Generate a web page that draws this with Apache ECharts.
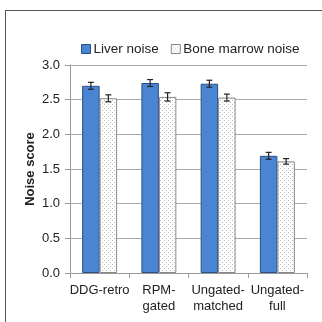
<!DOCTYPE html>
<html><head><meta charset="utf-8">
<script src="https://cdn.jsdelivr.net/npm/echarts@6/dist/echarts.min.js"></script>
<style>html,body{margin:0;padding:0;background:#fff}#c{width:322px;height:322px}</style>
</head><body><div id="c"></div>
<script>
const categories = ['DDG-retro', 'RPM-\ngated', 'Ungated-\nmatched', 'Ungated-\nfull'];
const liverNoise = [2.70, 2.74, 2.73, 1.69];
const liverErr = [0.05, 0.05, 0.05, 0.05];
const marrowNoise = [2.52, 2.54, 2.53, 1.61];
const marrowErr = [0.05, 0.06, 0.05, 0.04];
const yTicks = [0, 0.5, 1.0, 1.5, 2.0, 2.5, 3.0];

function dotPattern() {
  const c = document.createElement('canvas');
  c.width = 4; c.height = 4;
  const g = c.getContext('2d');
  g.fillStyle = '#ffffff'; g.fillRect(0, 0, 4, 4);
  g.fillStyle = '#b8b8b8';
  g.fillRect(0, 0, 1, 1);
  g.fillRect(2, 2, 1, 1);
  return c;
}
const pat = { image: dotPattern(), repeat: 'repeat' };
const catGap = 0.41;

function errSeries(vals, errs, side) {
  return {
    type: 'custom',
    z: 10,
    silent: true,
    data: vals.map((v, i) => [i, v, errs[i]]),
    renderItem: function (params, api) {
      const i = api.value(0), v = api.value(1), e = api.value(2);
      const band = api.size([1, 0])[0];
      const bw = band * (1 - catGap) / 2;
      const c = api.coord([i, v]);
      const x = c[0] + side * bw / 2;
      const hi = api.coord([i, v + e])[1];
      const lo = api.coord([i, v - e])[1];
      const cap = 3;
      const st = { stroke: '#222', lineWidth: 1.2 };
      return { type: 'group', children: [
        { type: 'line', shape: { x1: x, y1: hi, x2: x, y2: lo }, style: st },
        { type: 'line', shape: { x1: x - cap, y1: hi, x2: x + cap, y2: hi }, style: st },
        { type: 'line', shape: { x1: x - cap, y1: lo, x2: x + cap, y2: lo }, style: st }
      ]};
    }
  };
}

const chart = echarts.init(document.getElementById('c'), null, { renderer: 'canvas' });
chart.setOption({
  animation: false,
  textStyle: { fontFamily: 'Liberation Sans, Arial, sans-serif' },
  graphic: [
    { type: 'line', shape: { x1: 5.5, y1: 10, x2: 5.5, y2: 322 }, style: { stroke: '#555', lineWidth: 1 } },
    { type: 'line', shape: { x1: 5, y1: 10.5, x2: 322, y2: 10.5 }, style: { stroke: '#555', lineWidth: 1 } }
  ],
  legend: {
    top: 37, left: 76, icon: 'rect',
    itemWidth: 9, itemHeight: 9, itemGap: 12,
    textStyle: { fontSize: 13.5, color: '#222', padding: [0, 0, 0, -2] },
    data: [
      { name: 'Liver noise', itemStyle: { color: '#4a85d4', borderColor: '#2c4f80', borderWidth: 1 } },
      { name: 'Bone marrow noise', itemStyle: { color: pat, borderColor: '#888', borderWidth: 1 } }
    ]
  },
  grid: { left: 70, right: 15, top: 65, bottom: 49, containLabel: false },
  xAxis: {
    type: 'category', data: categories,
    axisLine: { lineStyle: { color: '#999' } },
    axisTick: { show: true, alignWithLabel: false, length: 5, lineStyle: { color: '#999' } },
    axisLabel: { fontSize: 13, color: '#222', lineHeight: 16, margin: 9, interval: 0 }
  },
  yAxis: {
    type: 'value', min: 0, max: 3, interval: 0.5,
    name: 'Noise score', nameLocation: 'middle', nameGap: 33, nameMoveOverlap: false,
    nameTextStyle: { fontSize: 13, fontWeight: 'bold', color: '#222' },
    axisLine: { show: true, lineStyle: { color: '#999' } },
    axisTick: { show: true, length: 5, lineStyle: { color: '#999' } },
    axisLabel: { fontSize: 13, color: '#222', margin: 10, formatter: v => yTicks.includes(v) ? v.toFixed(1) : '' },
    splitLine: { lineStyle: { color: '#aaa' } }
  },
  series: [
    { name: 'Liver noise', type: 'bar', data: liverNoise, barGap: '0%', barCategoryGap: (catGap * 100) + '%',
      itemStyle: { color: '#4a85d4', borderColor: '#2c4f80', borderWidth: 1 } },
    { name: 'Bone marrow noise', type: 'bar', data: marrowNoise, barGap: '0%', barCategoryGap: (catGap * 100) + '%',
      itemStyle: { color: pat, borderColor: '#888', borderWidth: 1 } },
    errSeries(liverNoise, liverErr, -1),
    errSeries(marrowNoise, marrowErr, 1)
  ]
});
</script></body></html>
